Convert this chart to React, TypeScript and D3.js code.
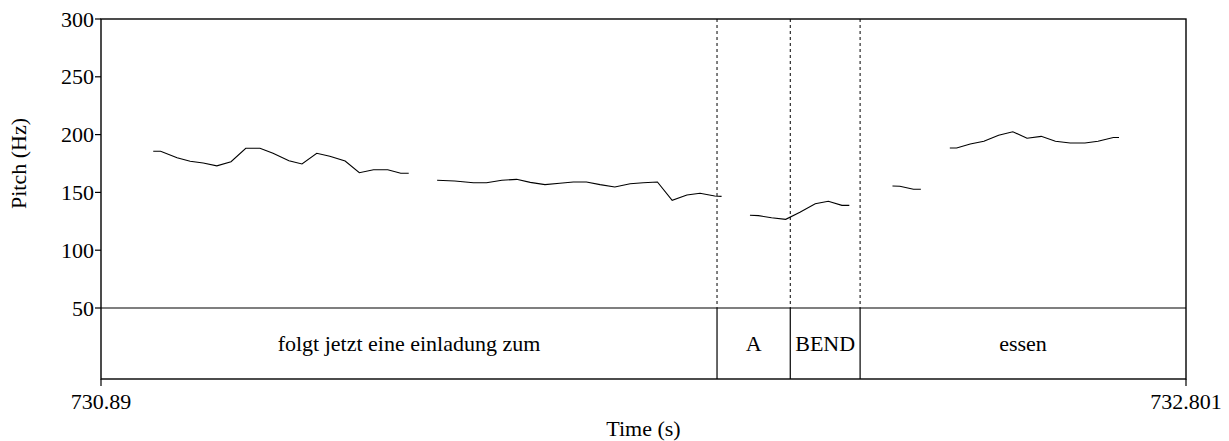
import React from "react";
import * as d3 from "d3";

const timeStart = 730.89;
const timeEnd = 732.801;
const yTicks = [50, 100, 150, 200, 250, 300];
const xTickLabels = ["730.89", "732.801"];

// pitch contour (null = unvoiced gap)
const pitchTimes: (number | null)[] = [
  730.982, 730.995, 731.024, 731.047, 731.070, 731.094, 731.119, 731.145, 731.170, 731.193,
  731.221, 731.244, 731.270, 731.293, 731.320, 731.345, 731.370, 731.395, 731.418, 731.432,
  null,
  731.482, 731.513, 731.546, 731.569, 731.596, 731.622, 731.646, 731.672, 731.698, 731.722,
  731.745, 731.769, 731.795, 731.822, 731.845, 731.870, 731.896, 731.922, 731.945, 731.971, 731.983,
  null,
  732.033, 732.048, 732.071, 732.096, 732.121, 732.148, 732.171, 732.195, 732.208,
  null,
  732.284, 732.297, 732.321, 732.334,
  null,
  732.385, 732.397, 732.421, 732.445, 732.471, 732.496, 732.521, 732.546, 732.571, 732.597,
  732.623, 732.646, 732.673, 732.683,
];
const pitchHz: (number | null)[] = [
  185.6, 185.6, 180.0, 177.0, 175.4, 173.0, 176.5, 188.2, 188.2, 183.9,
  177.4, 174.6, 183.8, 181.2, 177.2, 167.0, 169.6, 169.6, 166.6, 166.6,
  null,
  160.5, 159.9, 158.4, 158.4, 160.5, 161.3, 158.7, 156.7, 157.9, 159.0,
  159.0, 156.7, 154.7, 157.5, 158.4, 159.0, 143.2, 147.8, 149.2, 146.9, 146.6,
  null,
  130.2, 129.9, 128.1, 126.7, 132.8, 140.2, 142.3, 138.8, 138.8,
  null,
  155.5, 155.3, 152.7, 152.7,
  null,
  188.4, 188.4, 191.9, 194.3, 199.5, 202.5, 196.8, 198.5, 194.2, 192.7,
  192.7, 194.2, 197.5, 197.5,
];

// annotation tier
const tierBoundaries = [731.975, 732.104, 732.227];
const tierLabels = ["folgt jetzt eine einladung zum", "A", "BEND", "essen"];

const W = 1229;
const H = 441;
const left = 101;
const right = 1186;
const top = 19;
const pitchBottom = 308;
const bottom = 379;
const fs = 22;
const textStyle: React.CSSProperties = {
  fontFamily: '"Liberation Serif"',
  fontSize: fs,
};

export default function App() {
  const x = d3.scaleLinear().domain([timeStart, timeEnd]).range([left, right]);
  const y = d3.scaleLinear().domain([50, 300]).range([pitchBottom, top]);

  const pts = pitchTimes.map((t, i) => ({ t, f: pitchHz[i] }));
  const line = d3
    .line<{ t: number | null; f: number | null }>()
    .defined((d) => d.t !== null && d.f !== null)
    .x((d) => x(d.t as number))
    .y((d) => y(d.f as number));

  const edges = [timeStart, ...tierBoundaries, timeEnd];

  return (
    <svg
      width={W}
      height={H}
      style={{ position: "absolute", left: 0, top: 0, background: "#fff" }}
    >
      {/* pitch contour */}
      <path d={line(pts) || ""} fill="none" stroke="#000" strokeWidth={1.1} />

      {/* tier boundaries: dotted in pitch area, solid in tier */}
      {tierBoundaries.map((b, i) => (
        <g key={i}>
          <line x1={x(b)} x2={x(b)} y1={top} y2={pitchBottom} stroke="#000" strokeWidth={1} strokeDasharray="3,3" />
          <line x1={x(b)} x2={x(b)} y1={pitchBottom} y2={bottom} stroke="#000" strokeWidth={1.2} />
        </g>
      ))}

      {/* frame */}
      <rect x={left} y={top} width={right - left} height={bottom - top} fill="none" stroke="#000" strokeWidth={1.4} />
      <line x1={left} x2={right} y1={pitchBottom} y2={pitchBottom} stroke="#000" strokeWidth={1.2} />

      {/* y ticks */}
      {yTicks.map((v) => (
        <g key={v}>
          <line x1={left - 6} x2={left} y1={y(v)} y2={y(v)} stroke="#000" strokeWidth={1.2} />
          <text x={left - 7} y={y(v) + 7.5} textAnchor="end" style={textStyle}>
            {v}
          </text>
        </g>
      ))}
      <text
        transform={`translate(26, ${(top + pitchBottom) / 2}) rotate(-90)`}
        textAnchor="middle"
        style={textStyle}
      >
        Pitch (Hz)
      </text>

      {/* x ticks */}
      {[timeStart, timeEnd].map((t, i) => (
        <g key={i}>
          <line x1={x(t)} x2={x(t)} y1={bottom} y2={bottom + 7} stroke="#000" strokeWidth={1.2} />
          <text x={x(t)} y={409} textAnchor="middle" style={textStyle}>
            {xTickLabels[i]}
          </text>
        </g>
      ))}
      <text x={(left + right) / 2} y={436} textAnchor="middle" style={textStyle}>
        Time (s)
      </text>

      {/* tier labels */}
      {tierLabels.map((lab, i) => (
        <text
          key={i}
          x={(x(edges[i]) + x(edges[i + 1])) / 2}
          y={(pitchBottom + bottom) / 2 + 7.5}
          textAnchor="middle"
          style={textStyle}
        >
          {lab}
        </text>
      ))}
    </svg>
  );
}
